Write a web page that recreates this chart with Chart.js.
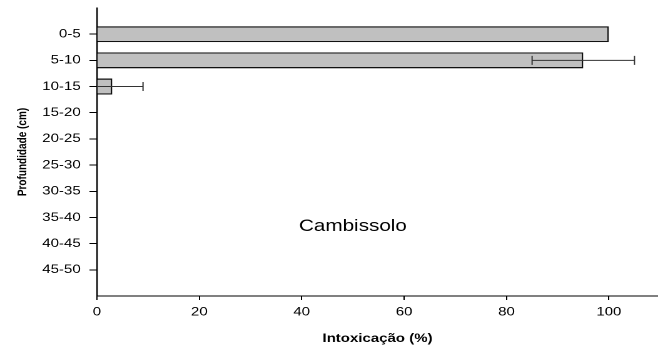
<!DOCTYPE html>
<html>
<head>
<meta charset="utf-8">
<script src="https://cdn.jsdelivr.net/npm/chart.js@4.4.1/dist/chart.umd.min.js"></script>
<style>
  html, body { margin: 0; padding: 0; background: #fff; overflow: hidden; }
  #wrap {
    position: absolute; left: 0; top: 0;
    width: 526px; height: 347px;
    transform: scaleX(1.251); transform-origin: 0 0;
  }
</style>
</head>
<body>
<div id="wrap"><canvas id="chart"></canvas></div>
<script>
// Soil depth layers (cm) and the injury observed in each
const depths = ['0-5', '5-10', '10-15', '15-20', '20-25', '25-30', '30-35', '35-40', '40-45', '45-50'];
const intoxication = [100, 95, 3, 0, 0, 0, 0, 0, 0, 0];
const errors = [0, 10, 6, 0, 0, 0, 0, 0, 0, 0];
const xTicks = [0, 20, 40, 60, 80, 100];
const soilName = 'Cambissolo';

// an empty slot above and below the layers keeps a gap at both ends of the axis
const yLabels = [''].concat(depths, ['']);
const yValues = [null].concat(intoxication, [null]);
const yErrors = [null].concat(errors, [null]);

const FONT = "'Liberation Sans', Arial, sans-serif";

const errorBars = {
  id: 'errorBars',
  afterDatasetsDraw(chart) {
    const { ctx, chartArea: a, scales: { x, y } } = chart;
    ctx.save();
    ctx.beginPath();
    ctx.rect(a.left, a.top - 10, a.right - a.left, a.bottom - a.top + 20);
    ctx.clip();
    ctx.strokeStyle = '#333';
    ctx.lineWidth = 1;
    yValues.forEach((v, i) => {
      const e = yErrors[i];
      if (v == null || !e) return;
      const py = y.getPixelForValue(i);
      const x1 = x.getPixelForValue(v - e);
      const x2 = x.getPixelForValue(v + e);
      ctx.beginPath();
      ctx.moveTo(x1, py); ctx.lineTo(x2, py);
      ctx.moveTo(x1, py - 4.5); ctx.lineTo(x1, py + 4.5);
      ctx.moveTo(x2, py - 4.5); ctx.lineTo(x2, py + 4.5);
      ctx.stroke();
    });
    ctx.restore();
  }
};

const soilLabel = {
  id: 'soilLabel',
  afterDraw(chart) {
    const { ctx, scales: { x, y } } = chart;
    ctx.save();
    ctx.font = '16.5px ' + FONT;
    ctx.fillStyle = '#000';
    ctx.textAlign = 'center';
    ctx.textBaseline = 'middle';
    ctx.fillText(soilName, x.getPixelForValue(50), y.getPixelForValue(8.35));
    ctx.restore();
  }
};

new Chart(document.getElementById('chart'), {
  type: 'bar',
  data: {
    labels: yLabels,
    datasets: [{
      data: yValues,
      backgroundColor: '#c0c0c0',
      borderColor: '#111',
      borderWidth: 1.3,
      borderSkipped: 'start',
      categoryPercentage: 1,
      barPercentage: 0.61
    }]
  },
  options: {
    indexAxis: 'y',
    responsive: true,
    maintainAspectRatio: false,
    devicePixelRatio: 2,
    animation: false,
    events: [],
    layout: { padding: { top: 8, right: 0, bottom: 0, left: 0 } },
    plugins: { legend: { display: false }, tooltip: { enabled: false } },
    scales: {
      x: {
        type: 'linear',
        min: 0,
        max: 109.6,
        afterBuildTicks: s => { s.ticks = xTicks.map(v => ({ value: v })); },
        afterFit: s => { s.height = 51; s.paddingLeft = 0; s.paddingRight = 0; },
        border: { display: true, color: '#000', width: 1 },
        grid: { drawOnChartArea: false, drawTicks: true, tickLength: 4, color: '#000' },
        ticks: { color: '#000', font: { family: FONT, size: 12 }, padding: 5, maxRotation: 0 },
        title: {
          display: true,
          text: 'Intoxicação (%)',
          color: '#000',
          font: { family: FONT, size: 12, weight: 'bold' },
          padding: { top: 0, bottom: 1 }
        }
      },
      y: {
        type: 'category',
        offset: false,
        afterFit: s => { s.width = 77.5; s.paddingTop = 0; s.paddingBottom = 0; },
        border: { display: true, color: '#000', width: 1.2 },
        grid: {
          offset: false,
          drawOnChartArea: false,
          drawTicks: true,
          tickLength: 6,
          tickColor: c => (c.tick && c.tick.label === '') ? 'rgba(0,0,0,0)' : '#000'
        },
        ticks: { color: '#000', font: { family: FONT, size: 12 }, padding: 7, autoSkip: false },
        title: {
          display: true,
          text: 'Profundidade (cm)',
          color: '#000',
          font: { family: FONT, size: 10, weight: 'bold' },
          padding: { top: 12, bottom: 0 }
        }
      }
    }
  },
  plugins: [errorBars, soilLabel]
});
</script>
</body>
</html>
